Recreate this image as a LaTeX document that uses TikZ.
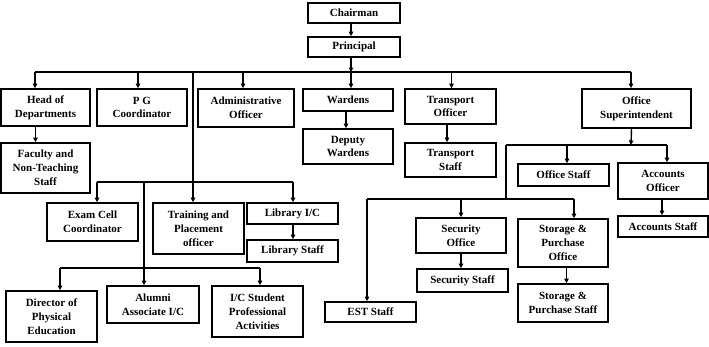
\documentclass[tikz,border=0pt]{standalone}
\usepackage{fontspec}
\setmainfont{Liberation Serif}
\usetikzlibrary{arrows.meta}
% box from (x1,y1) to (x2,y2), y measured downwards
\newcommand\orgbox[6]{%
  \node[orgbox, minimum width={(#4-#2)*1pt}, minimum height={(#5-#3)*1pt}]
    (#1) at ({(#2+#4)/2},{(#3+#5)/2}) {#6};}
\begin{document}
\begin{tikzpicture}[x=1pt,y=-1pt,
  orgbox/.style={draw, line width=1.7pt, inner sep=0pt, align=center,
    font=\bfseries\fontsize{11}{13.8}\selectfont},
  link/.style={line width=1.4pt},
  arr/.style={link, -{Triangle[length=4.5pt,width=4.5pt]}}]
\useasboundingbox[fill=white] (0,0) rectangle (709,346);

% top
\orgbox{chair}{308}{3}{400}{23}{Chairman}
\orgbox{princ}{308}{37}{400}{57}{Principal}

% first level
\orgbox{hod}{1}{89}{90}{126}{Head of\\Departments}
\orgbox{pg}{97}{89}{187}{126}{P G\\Coordinator}
\orgbox{admin}{198}{89}{294}{127}{Administrative\\Officer}
\orgbox{ward}{303}{89}{393}{111}{Wardens}
\orgbox{trans}{405}{89}{496}{124}{Transport\\Officer}
\orgbox{os}{582}{89}{691}{128}{Office\\Superintendent}

% second level
\orgbox{fac}{1}{143}{90}{193}{Faculty and\\Non-Teaching\\Staff}
\orgbox{dward}{303}{129}{393}{164}{Deputy\\Wardens}
\orgbox{tstaff}{405}{143}{496}{177}{Transport\\Staff}
\orgbox{ostaff}{518}{164}{609}{186}{Office Staff}
\orgbox{acc}{618}{163}{708}{199}{Accounts\\Officer}
\orgbox{accstaff}{618}{216}{708}{237}{Accounts Staff}

% left branches
\orgbox{exam}{47}{203}{138}{241}{Exam Cell\\Coordinator}
\orgbox{tpo}{153}{203}{244}{254}{Training and\\Placement\\officer}
\orgbox{lib}{247}{203}{338}{224}{Library I/C}
\orgbox{libstaff}{247}{240}{338}{262}{Library Staff}
\orgbox{dpe}{6}{291}{97}{342}{Director of\\Physical\\Education}
\orgbox{alum}{107}{286}{199}{323}{Alumni\\Associate I/C}
\orgbox{icsp}{212}{286}{303}{337}{I/C Student\\Professional\\Activities}

% office branches
\orgbox{sec}{416}{218}{506}{253}{Security\\Office}
\orgbox{secstaff}{417}{269}{508}{292}{Security Staff}
\orgbox{sto}{518}{219}{608}{267}{Storage \&\\Purchase\\Office}
\orgbox{stostaff}{518}{284}{608}{322}{Storage \&\\Purchase Staff}
\orgbox{est}{325}{302}{416}{322}{EST Staff}

% bus lines
\coordinate (b1L) at (35,72);  \coordinate (b1R) at (631,72);
\coordinate (b1m) at (351,72);
\coordinate (t1) at (193,72);
\coordinate (b3L) at (97,182); \coordinate (b3R) at (293,182);
\coordinate (t3) at (193,182);
\coordinate (t4a) at (144,182); \coordinate (t4b) at (144,268);
\coordinate (b4L) at (60,268); \coordinate (b4R) at (260,268);
\coordinate (b2L) at (506,145); \coordinate (b2R) at (667,145);
\coordinate (b2m) at (631,145);
\coordinate (t5) at (506,199);
\coordinate (b5L) at (367,199); \coordinate (b5R) at (574,199);

\draw[arr] ([xshift=-3pt]chair.south) -- ([xshift=-3pt]princ.north);
\draw[arr] ([xshift=-3pt]princ.south) -- (b1m);
\draw[link] (b1L) -- (b1R);
\draw[arr] (b1L) -- (hod.north -| b1L);
\draw[arr] ([xshift=-4pt]pg.north |- b1L) -- ([xshift=-4pt]pg.north);
\draw[arr] ([xshift=-3pt]admin.north |- b1L) -- ([xshift=-3pt]admin.north);
\draw[arr] ([xshift=3pt]ward.north |- b1L) -- ([xshift=3pt]ward.north);
\draw[arr] ([xshift=1pt]trans.north |- b1L) -- ([xshift=1pt]trans.north);
\draw[arr] (b1R) -- (os.north -| b1R);

\draw[arr] ([xshift=-10pt]hod.south) -- ([xshift=-10pt]fac.north);
\draw[arr] ([xshift=-2pt]ward.south) -- ([xshift=-2pt]dward.north);
\draw[arr] ([xshift=-3.5pt]trans.south) -- ([xshift=-3.5pt]tstaff.north);

% Principal trunk to left branches
\draw[link] (t1) -- (t3);
\draw[link] (b3L) -- (b3R);
\draw[arr] (b3L) -- (exam.north -| b3L);
\draw[arr] (t3) -- (tpo.north -| t3);
\draw[arr] (b3R) -- (lib.north -| b3R);
\draw[arr] (lib.south -| b3R) -- (libstaff.north -| b3R);
\draw[link] (t4a) -- (t4b);
\draw[link] (b4L) -- (b4R);
\draw[arr] (b4L) -- (dpe.north -| b4L);
\draw[arr] (t4b) -- (alum.north -| t4b);
\draw[arr] (b4R) -- (icsp.north -| b4R);

% Office Superintendent branches
\draw[arr] ([xshift=-5pt]os.south) -- (b2m);
\draw[link] (b2L) -- (b2R);
\draw[arr] ([xshift=3.5pt]ostaff.north |- b2L) -- ([xshift=3.5pt]ostaff.north);
\draw[arr] (b2R) -- (acc.north -| b2R);
\draw[arr] ([xshift=-1pt]acc.south) -- ([xshift=-1pt]accstaff.north);
\draw[link] (b2L) -- (t5);
\draw[link] (b5L) -- (b5R);
\draw[arr] (b5L) -- (est.north -| b5L);
\draw[arr] (sec.north |- b5L) -- (sec.north);
\draw[arr] (b5R) -- (sto.north -| b5R);
\draw[arr] (sec.south) -- (secstaff.north -| sec.south);
\draw[arr] ([xshift=3.5pt]sto.south) -- ([xshift=3.5pt]stostaff.north);
\end{tikzpicture}
\end{document}
